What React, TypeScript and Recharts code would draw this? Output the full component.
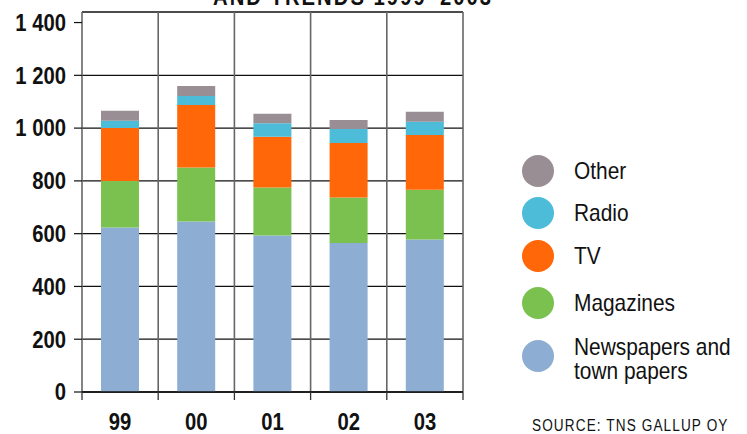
import { BarChart, Bar, XAxis, YAxis, CartesianGrid } from 'recharts';

// Media advertising by medium, 1999-2003 (stacked)
const years = ['99', '00', '01', '02', '03'];
const newspapers = [623, 646, 593, 565, 578];
const magazines = [177, 205, 182, 172, 188];
const tv = [200, 237, 192, 207, 208];
const radio = [28, 34, 51, 53, 50];
const other = [38, 38, 36, 34, 38];

const yTicks = [0, 200, 400, 600, 800, 1000, 1200, 1400];
const gridValues = [0, 200, 400, 600, 800, 1000, 1200, 1440];

const series = [
  { key: 'newspapers', name: 'Newspapers and town papers', color: '#8eadd2' },
  { key: 'magazines', name: 'Magazines', color: '#7bc150' },
  { key: 'tv', name: 'TV', color: '#ff6708' },
  { key: 'radio', name: 'Radio', color: '#4cbcd8' },
  { key: 'other', name: 'Other', color: '#998e93' },
];

const data = years.map((y, i) => ({
  year: y,
  newspapers: newspapers[i],
  magazines: magazines[i],
  tv: tv[i],
  radio: radio[i],
  other: other[i],
}));

const FONT = "'Liberation Sans', Arial, sans-serif";

const fmt = (v: number) => (v >= 1000 ? `${Math.floor(v / 1000)} ${String(v % 1000).padStart(3, '0')}` : String(v));

// the original uses a condensed face; squeeze Liberation Sans horizontally
const YTick = (props: any) => {
  const { x, y, payload } = props;
  return (
    <text transform={`translate(${x},${y}) scale(0.88,1)`} textAnchor="end" dy="0.36em"
      fontFamily={FONT} fontWeight="bold" fontSize={23} fill="#111">
      {fmt(payload.value)}
    </text>
  );
};

const XTick = (props: any) => {
  const { x, y, payload, width, visibleTicksCount, index } = props;
  const band = width / visibleTicksCount;
  return (
    <g>
      <line x1={x - band / 2} x2={x - band / 2} y1={y} y2={y + 8} stroke="#333" strokeWidth={1.3} />
      {index === visibleTicksCount - 1 && (
        <line x1={x + band / 2} x2={x + band / 2} y1={y} y2={y + 8} stroke="#333" strokeWidth={1.3} />
      )}
      <text transform={`translate(${x},${y + 38}) scale(0.88,1)`} textAnchor="middle"
        fontFamily={FONT} fontWeight="bold" fontSize={23} fill="#111">
        {payload.value}
      </text>
    </g>
  );
};

const squeeze = (sx: number) => ({ display: 'inline-block', transform: `scaleX(${sx})`, transformOrigin: 'left center', whiteSpace: 'nowrap' as const });

const legendCenters = [171, 213, 256, 303, 356];

const ChartLegend = () => (
  <>
    {[...series].reverse().map((s, i) => (
      <div key={s.key} style={{ position: 'absolute', left: 522, top: legendCenters[i] - 30, height: 60, display: 'flex', alignItems: 'center', fontFamily: FONT, fontSize: 24, color: '#111' }}>
        <div style={{ width: 32, height: 32, borderRadius: 16, background: s.color, marginRight: 20, flex: 'none' }} />
        <div style={{ ...squeeze(0.87), lineHeight: '24px', marginTop: s.key === 'newspapers' ? 6 : 0 }}>
          {s.key === 'newspapers' ? (<>Newspapers and<br />town papers</>) : s.name}
        </div>
      </div>
    ))}
  </>
);

export default function App() {
  return (
    <div style={{ position: 'absolute', left: 0, top: 0, width: 747, height: 434, overflow: 'hidden', background: '#fff' }}>
      <div style={{ position: 'absolute', left: 213, top: -16, fontFamily: FONT, fontWeight: 'bold', fontSize: 23, color: '#111', letterSpacing: 2.3, ...squeeze(0.88) }}>
        AND TRENDS 1999–2003
      </div>
      <BarChart
        width={747}
        height={434}
        data={data}
        margin={{ top: 12, right: 284, bottom: 0, left: 0 }}
        barSize={38}
      >
        <CartesianGrid
          vertical={false}
          stroke="#111"
          strokeWidth={1.3}
          horizontalValues={gridValues}
        />
        <CartesianGrid
          horizontal={false}
          stroke="#666"
          strokeWidth={1.6}
          verticalCoordinatesGenerator={({ offset }: any) =>
            years.map((_, i) => offset.left + (i * offset.width) / years.length).concat(offset.left + offset.width)
          }
        />
        <YAxis
          type="number"
          domain={[0, 1440]}
          ticks={yTicks}
          interval={0}
          width={82}
          axisLine={false}
          tickSize={8}
          tickMargin={8}
          tickLine={{ stroke: '#111', strokeWidth: 1.2 }}
          tick={<YTick />}
        />
        <XAxis
          dataKey="year"
          height={42}
          tickSize={0}
          tickMargin={0}
          tickLine={false}
          axisLine={{ stroke: '#111', strokeWidth: 1.3 }}
          interval={0}
          tick={<XTick />}
        />
        {series.map((s) => (
          <Bar key={s.key} dataKey={s.key} name={s.name} stackId="a" fill={s.color} isAnimationActive={false} />
        ))}
      </BarChart>
      <ChartLegend />
      <div style={{ position: 'absolute', left: 532, top: 417, fontFamily: FONT, fontSize: 16, letterSpacing: 1.3, color: '#111', ...squeeze(0.85) }}>
        SOURCE: TNS GALLUP OY
      </div>
    </div>
  );
}
